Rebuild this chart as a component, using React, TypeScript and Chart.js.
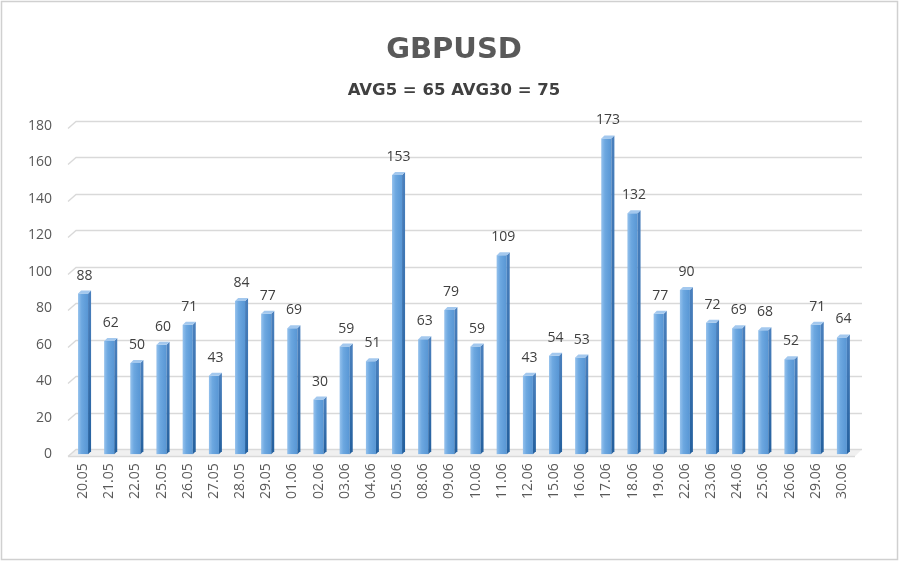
import React, { useEffect, useRef } from "react";
import { Chart, registerables } from "chart.js";

Chart.register(...registerables);

const categories = [
  "20.05", "21.05", "22.05", "25.05", "26.05", "27.05", "28.05", "29.05",
  "01.06", "02.06", "03.06", "04.06", "05.06", "08.06", "09.06", "10.06",
  "11.06", "12.06", "15.06", "16.06", "17.06", "18.06", "19.06", "22.06",
  "23.06", "24.06", "25.06", "26.06", "29.06", "30.06",
];
const values = [
  88, 62, 50, 60, 71, 43, 84, 77, 69, 30, 59, 51, 153, 63, 79, 59,
  109, 43, 54, 53, 173, 132, 77, 90, 72, 69, 68, 52, 71, 64,
];
const yTicks = [0, 20, 40, 60, 80, 100, 120, 140, 160, 180];
const titleText = "GBPUSD";
const subtitleText = "AVG5 = 65 AVG30 = 75";

const FONT = "'Open Sans', 'DejaVu Sans', sans-serif";
const TITLE_FONT = "'DejaVu Sans', 'Open Sans', sans-serif";
const BACK_DX = 7;
const BACK_DY = 5;
const DEPTH = 3;

const bar3dPlugin = {
  id: "bar3d",
  beforeDraw(chart: any) {
    const { ctx, width, height } = chart;
    ctx.save();
    ctx.fillStyle = "#ffffff";
    ctx.fillRect(0, 0, width, height);
    ctx.strokeStyle = "#d0d0d0";
    ctx.lineWidth = 1.5;
    ctx.strokeRect(1.5, 1.5, width - 4, height - 4);
    ctx.restore();
  },
  beforeDatasetsDraw(chart: any) {
    const { ctx, chartArea } = chart;
    const ys = chart.scales.y;
    const { left, right } = chartArea;
    ctx.save();
    const p0 = ys.getPixelForValue(0);
    ctx.fillStyle = "#f0f0f0";
    ctx.beginPath();
    ctx.moveTo(left - 2, p0 + 2);
    ctx.lineTo(left + BACK_DX - 1, p0 - BACK_DY);
    ctx.lineTo(right + BACK_DX, p0 - BACK_DY);
    ctx.lineTo(right, p0 + 2);
    ctx.closePath();
    ctx.fill();
    ctx.strokeStyle = "#d9d9d9";
    ctx.lineWidth = 1.3;
    yTicks.forEach((v) => {
      const py = Math.round(ys.getPixelForValue(v)) + 0.5;
      ctx.beginPath();
      ctx.moveTo(left - 2, py + 2);
      ctx.lineTo(left + BACK_DX - 1, py - BACK_DY);
      ctx.lineTo(right + BACK_DX, py - BACK_DY);
      ctx.stroke();
    });
    ctx.beginPath();
    ctx.moveTo(left - 2, Math.round(p0) + 2.5);
    ctx.lineTo(right, Math.round(p0) + 2.5);
    ctx.stroke();
    ctx.restore();
  },
  afterDatasetsDraw(chart: any) {
    const { ctx } = chart;
    const meta = chart.getDatasetMeta(0);
    ctx.save();
    meta.data.forEach((bar: any, i: number) => {
      const { x, y, base, width } = bar.getProps(["x", "y", "base", "width"], true);
      const l = x - width / 2;
      const r = x + width / 2;
      const d = DEPTH;
      const hg = ctx.createLinearGradient(l, 0, r, 0);
      hg.addColorStop(0, "rgba(190,220,250,0.55)");
      hg.addColorStop(0.35, "rgba(190,220,250,0.15)");
      hg.addColorStop(1, "rgba(40,90,160,0.12)");
      ctx.fillStyle = hg;
      ctx.fillRect(l, y, width, base - y);
      const sg = ctx.createLinearGradient(0, y, 0, base);
      sg.addColorStop(0, "#4a80bd");
      sg.addColorStop(1, "#24609e");
      ctx.fillStyle = sg;
      ctx.beginPath();
      ctx.moveTo(r, y);
      ctx.lineTo(r + d, y - d);
      ctx.lineTo(r + d, base - d);
      ctx.lineTo(r, base);
      ctx.closePath();
      ctx.fill();
      ctx.fillStyle = "#a3c8ee";
      ctx.beginPath();
      ctx.moveTo(l, y);
      ctx.lineTo(l + d, y - d);
      ctx.lineTo(r + d, y - d);
      ctx.lineTo(r, y);
      ctx.closePath();
      ctx.fill();
      ctx.fillStyle = "#404040";
      ctx.font = `14px ${FONT}`;
      ctx.textAlign = "center";
      ctx.textBaseline = "middle";
      ctx.fillText(String(values[i]), x + d / 2, y - 18);
    });
    ctx.restore();
  },
};

export default function App() {
  const canvasRef = useRef<HTMLCanvasElement | null>(null);

  useEffect(() => {
    document.body.style.margin = "0";
    const canvas = canvasRef.current;
    if (!canvas) return;
    const chart = new Chart(canvas, {
      type: "bar",
      data: {
        labels: categories,
        datasets: [
          {
            data: values,
            backgroundColor: "#5f9fdc",
            borderWidth: 0,
            barPercentage: 0.76,
            categoryPercentage: 0.5,
          },
        ],
      },
      options: {
        animation: false,
        responsive: false,
        maintainAspectRatio: false,
        layout: { padding: { left: 10, right: 2, bottom: 54, top: 0 } },
        plugins: {
          legend: { display: false },
          tooltip: { enabled: false },
          title: {
            display: true,
            text: titleText,
            color: "#595959",
            font: { family: TITLE_FONT, size: 29, weight: "bold" },
            padding: { top: 33, bottom: 13 },
          },
          subtitle: {
            display: true,
            text: subtitleText,
            color: "#404040",
            font: { family: TITLE_FONT, size: 16.5, weight: "bold" },
            padding: { top: 0, bottom: 25 },
          },
        },
        scales: {
          x: {
            grid: { display: false, drawTicks: false },
            border: { display: false },
            ticks: {
              color: "#595959",
              font: { family: FONT, size: 14 },
              minRotation: 90,
              maxRotation: 90,
              padding: 9,
              autoSkip: false,
            },
          },
          y: {
            min: 0,
            max: 180,
            grid: { display: false, drawTicks: false },
            border: { display: false },
            afterBuildTicks: (scale: any) => {
              scale.ticks = yTicks.map((v) => ({ value: v }));
            },
            ticks: {
              color: "#595959",
              font: { family: FONT, size: 14 },
              padding: 18,
            },
          },
          yRight: {
            type: "linear",
            position: "right",
            min: 0,
            max: 180,
            grid: { display: false, drawTicks: false },
            border: { display: false },
            ticks: { display: false },
            afterFit: (scale: any) => {
              scale.width = 43;
            },
          },
        },
      },
      plugins: [bar3dPlugin],
    });
    return () => chart.destroy();
  }, []);

  return (
    <div style={{ width: 900, height: 562, position: "relative" }}>
      <canvas ref={canvasRef} width={900} height={562} style={{ display: "block" }} />
    </div>
  );
}
